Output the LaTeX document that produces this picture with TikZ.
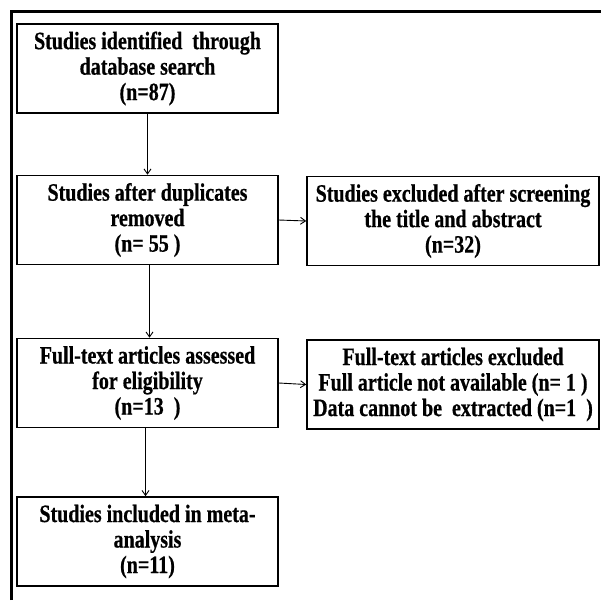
\documentclass[tikz,border=0pt]{standalone}
\usepackage{fontspec}
\setmainfont{Liberation Serif}[FakeStretch=0.8,BoldFeatures={FakeBold=0.6}]
\usetikzlibrary{arrows.meta}
\begin{document}
\begin{tikzpicture}[x=1pt,y=-1pt,
  flowbox/.style={draw=black,line width=1.6pt,inner sep=0pt,align=center,
    font=\bfseries\fontsize{25}{25.5}\selectfont},
  conn/.style={line width=0.9pt,-{Straight Barb[length=5pt,width=7pt]}}]
\useasboundingbox (0,0) rectangle (601,600);
\fill[white] (0,0) rectangle (601,600);
\draw[line width=3pt] (11,600) -- (11,11) -- (601,11);
% left column boxes
\node[flowbox,minimum width=261pt,minimum height=89pt] (b1) at (147.5,68.5)
  {Studies identified\ \ through\\database search\\(n=87)};
\node[flowbox,minimum width=261pt,minimum height=89pt] (b2) at (147.5,220)
  {Studies after duplicates\\removed\\(n= 55 )};
\node[flowbox,minimum width=261pt,minimum height=89pt] (b3) at (147.5,383)
  {Full-text articles assessed\\for eligibility\\(n=13\ \ )};
\node[flowbox,minimum width=261pt,minimum height=89pt] (b4) at (147.5,541.5)
  {Studies included in meta-\\analysis\\(n=11)};
% right column boxes
\node[flowbox,minimum width=292pt,minimum height=89pt] (r1) at (453,221)
  {Studies excluded after screening\\the title and abstract\\(n=32)};
\node[flowbox,minimum width=292pt,minimum height=89pt] (r2) at (453,384.5)
  {Full-text articles excluded\\Full article not available (n= 1 )\\Data cannot be\ \ extracted (n=1\ \ )};
% connectors
\draw[conn] (b1.south) -- (b2.north);
\draw[conn] ([xshift=2pt]b2.south) -- ([xshift=2pt]b3.north);
\draw[conn] ([xshift=-2pt]b3.south) -- ([xshift=-2pt]b4.north);
\draw[conn] (b2.east) -- (r1.west);
\draw[conn] (b3.east) -- (r2.west);
\end{tikzpicture}
\end{document}
